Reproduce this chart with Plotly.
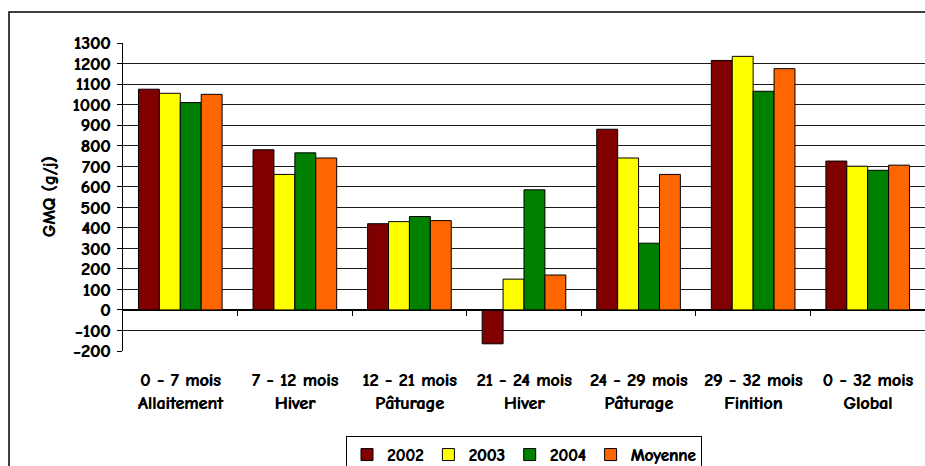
import plotly.graph_objects as go

categories = ["0 - 7 mois<br>Allaitement", "7 - 12 mois<br>Hiver", "12 - 21 mois<br>Pâturage",
              "21 - 24 mois<br>Hiver", "24 - 29 mois<br>Pâturage", "29 - 32 mois<br>Finition",
              "0 - 32 mois<br>Global"]
series_names = ["2002", "2003", "2004", "Moyenne"]
v2002 = [1075, 780, 420, -165, 880, 1215, 725]
v2003 = [1055, 660, 430, 150, 740, 1235, 700]
v2004 = [1010, 765, 455, 585, 325, 1065, 680]
vmoy = [1050, 740, 435, 170, 660, 1175, 705]
colors = ["#800000", "#FFFF00", "#008000", "#FF6600"]
y_ticks = list(range(-200, 1301, 100))

FONT = "Comic Sans MS, Comic Neue, DejaVu Sans, sans-serif"
FS = 18
SH = "0.6px 0 0 black"

def fnt(size=FS):
    return dict(size=size, family=FONT, color="black", weight="bold", shadow=SH)

fig = go.Figure()
for name, vals, col in zip(series_names, [v2002, v2003, v2004, vmoy], colors):
    fig.add_trace(go.Bar(x=categories, y=vals, name=name,
                         marker=dict(color=col, line=dict(color="#000000", width=1))))

ymin, ymax = y_ticks[0], y_ticks[-1]
zero_pos = (0 - ymin) / (ymax - ymin)

W, H = 925, 466
L, T = 123, 43
B = H - 351
PW, PH = W - L, H - T - B

fig.update_layout(
    width=W, height=H,
    margin=dict(l=L, r=0, t=T, b=B, autoexpand=False),
    paper_bgcolor="white", plot_bgcolor="white",
    font=fnt(),
    barmode="group", bargap=0.27, bargroupgap=0,
    showlegend=True,
    legend=dict(orientation="h", xref="paper", x=0.5, xanchor="center",
                yref="container", y=1 - 436 / H, yanchor="top",
                bordercolor="black", borderwidth=1, font=fnt(17),
                itemwidth=30, traceorder="normal", tracegroupgap=0),
    xaxis=dict(type="category", categoryarray=categories, range=[-0.5, len(categories) - 0.5],
               showline=False, ticks="", showgrid=False, ticklabelstandoff=16, automargin=False,
               tickfont=fnt()),
    xaxis2=dict(overlaying="x", anchor="free", position=zero_pos, range=[-0.5, len(categories) - 0.5],
                tickmode="array", tickvals=[i + 0.5 for i in range(len(categories) - 1)],
                showticklabels=False, ticks="outside", ticklen=5, tickcolor="black", automargin=False,
                showline=True, linecolor="black", linewidth=1, showgrid=False, zeroline=False),
    yaxis=dict(range=[ymin, ymax], tickmode="array", tickvals=y_ticks,
               showgrid=True, gridcolor="#1a1a1a", gridwidth=1, automargin=False,
               zeroline=True, zerolinecolor="black", zerolinewidth=1,
               showline=True, linecolor="black", linewidth=1,
               ticks="outside", ticklen=5, tickcolor="black", ticklabelstandoff=3,
               tickfont=fnt(),
               title=dict(text="GMQ (g/j)", font=fnt(), standoff=12)),
    shapes=[dict(type="rect", xref="paper", yref="paper",
                 x0=(9 - L) / PW, x1=1.05, y0=-0.5, y1=1 + (T - 12) / PH,
                 line=dict(color="black", width=1.5), fillcolor="rgba(0,0,0,0)", layer="below")],
)
fig.add_trace(go.Scatter(x=[None], y=[None], xaxis="x2", showlegend=False, hoverinfo="skip"))

fig.write_html("out.html", config={"displayModeBar": False},
               post_script="document.documentElement.style.overflow='hidden';"
                           "document.body.style.overflow='hidden';document.body.style.margin='0';")
